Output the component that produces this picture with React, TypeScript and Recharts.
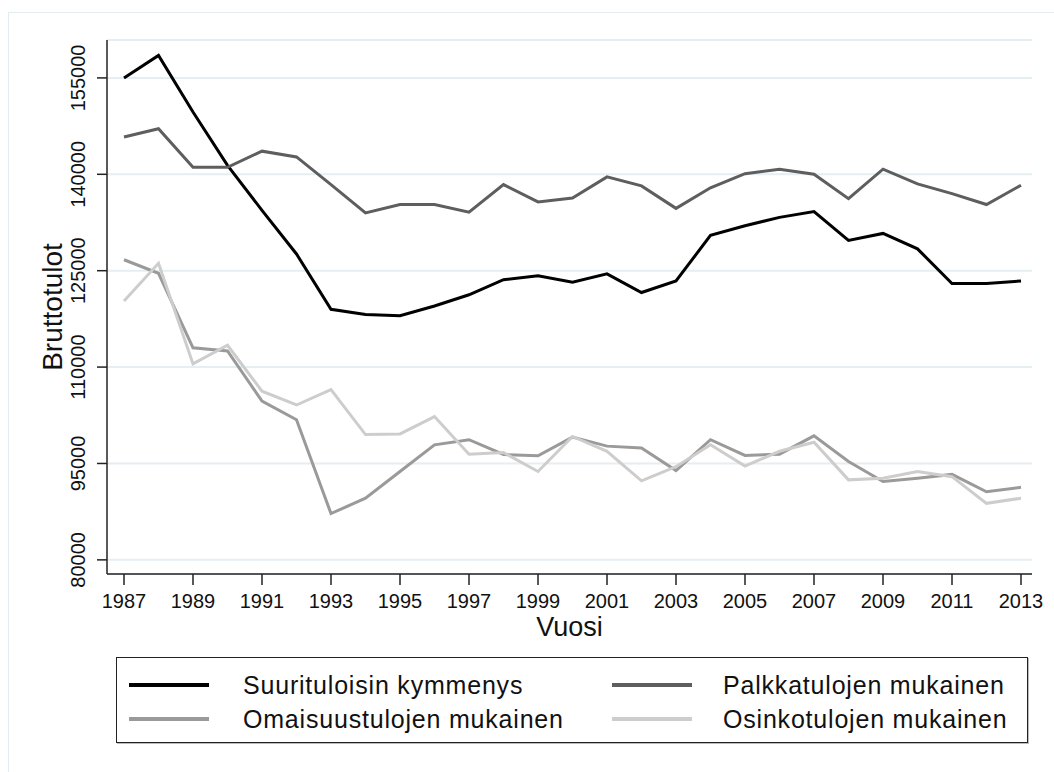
import React from 'react';
import { LineChart, Line, XAxis, YAxis, CartesianGrid, Legend } from 'recharts';

const years = [1987, 1988, 1989, 1990, 1991, 1992, 1993, 1994, 1995, 1996, 1997, 1998, 1999, 2000, 2001, 2002, 2003, 2004, 2005, 2006, 2007, 2008, 2009, 2010, 2011, 2012, 2013];
const suurituloisin = [155000, 158500, 149700, 141400, 134400, 127600, 119000, 118200, 118000, 119500, 121250, 123600, 124200, 123200, 124500, 121600, 123400, 130500, 132000, 133300, 134200, 129700, 130800, 128400, 123000, 123000, 123400];
const palkkatulot = [145800, 147100, 141100, 141100, 143600, 142700, 138400, 134000, 135300, 135300, 134100, 138400, 135700, 136300, 139600, 138200, 134700, 137900, 140100, 140800, 140000, 136200, 140800, 138500, 137000, 135300, 138300];
const omaisuustulot = [126700, 124600, 113000, 112500, 104700, 101800, 87200, 89600, 93750, 97900, 98700, 96400, 96200, 99100, 97700, 97400, 93900, 98700, 96250, 96450, 99300, 95300, 92200, 92700, 93300, 90600, 91300];
const osinkotulot = [120300, 126150, 110500, 113400, 106250, 104100, 106500, 99500, 99600, 102300, 96450, 96700, 93750, 99200, 96900, 92300, 94500, 97900, 94600, 96900, 98300, 92450, 92700, 93750, 92950, 88800, 89600];

const xTicks = [1987, 1989, 1991, 1993, 1995, 1997, 1999, 2001, 2003, 2005, 2007, 2009, 2011, 2013];
const yTicks = [80000, 95000, 110000, 125000, 140000, 155000];

const seriesKeys = ['suurituloisin', 'palkkatulot', 'omaisuustulot', 'osinkotulot'];
const seriesNames = ['Suurituloisin kymmenys', 'Palkkatulojen mukainen', 'Omaisuustulojen mukainen', 'Osinkotulojen mukainen'];
const seriesColors = ['#000000', '#5e5e5e', '#9a9a9a', '#cdcdcd'];

const data = years.map((year, i) => ({
  year,
  suurituloisin: suurituloisin[i],
  palkkatulot: palkkatulot[i],
  omaisuustulot: omaisuustulot[i],
  osinkotulot: osinkotulot[i],
}));

const FONT = '"Liberation Sans", Arial, sans-serif';

const YTick = (props: any) => {
  const { x, y, payload } = props;
  const bx = x - 12;
  return (
    <text x={bx} y={y} transform={`rotate(-90, ${bx}, ${y})`} textAnchor="middle" fontFamily={FONT} fontSize={20} fill="#111">
      {payload.value}
    </text>
  );
};

const XTick = (props: any) => {
  const { x, y, payload } = props;
  return (
    <text x={x} y={y} dy={23} textAnchor="middle" fontFamily={FONT} fontSize={20} fill="#111">
      {payload.value}
    </text>
  );
};

const LegendBox = () => {
  const items = seriesNames.map((name, i) => ({ name, color: seriesColors[i] }));
  return (
    <div style={{ height: 100, position: 'relative', fontFamily: FONT }}>
      <div
        style={{
          position: 'absolute',
          left: 116,
          top: 13,
          width: 910,
          height: 84,
          border: '1.5px solid #222',
          boxShadow: '1px 1px 0 #bbb',
          background: '#fff',
        }}
      >
        {items.map((it, i) => {
          const col = i % 2;
          const row = Math.floor(i / 2);
          const left = col === 0 ? 12 : 495;
          const top = row === 0 ? 27 : 61;
          return (
            <div key={it.name} style={{ position: 'absolute', left, top: top - 16, height: 32, display: 'flex', alignItems: 'center' }}>
              <div style={{ width: 80, height: 4, background: it.color }} />
              <div style={{ marginLeft: col === 0 ? 34 : 31, fontSize: 25, color: '#111', whiteSpace: 'nowrap', letterSpacing: 0.8 }}>{it.name}</div>
            </div>
          );
        })}
      </div>
    </div>
  );
};

export default function App() {
  return (
    <div style={{ position: 'absolute', left: 0, top: 0, width: 1054, height: 772, background: '#fff' }}>
      <div style={{ position: 'absolute', left: 8, top: 12, right: -2, bottom: -2, border: '1px solid #e3ecef' }} />
      <LineChart
        width={1054}
        height={772}
        data={data}
        margin={{ top: 40, right: 22, bottom: 28, left: 0 }}
        style={{ position: 'absolute', left: 0, top: 0 }}
      >
        <CartesianGrid horizontal vertical={false} stroke="#e5eef1" strokeWidth={2} />
        <XAxis
          dataKey="year"
          type="number"
          domain={[1987, 2013]}
          ticks={xTicks}
          padding={{ left: 17, right: 11 }}
          height={70}
          tickSize={11}
          tickMargin={0}
          stroke="#222"
          strokeWidth={1.5}
          tick={<XTick />}
          label={(p: any) => {
            const vb = p.viewBox;
            return (
              <text x={vb.x + vb.width / 2} y={636} textAnchor="middle" fontFamily={FONT} fontSize={27} fill="#111">
                Vuosi
              </text>
            );
          }}
        />
        <YAxis
          type="number"
          domain={[77800, 160900]}
          allowDataOverflow
          ticks={yTicks}
          width={107}
          tickSize={10}
          tickMargin={0}
          stroke="#222"
          strokeWidth={1.5}
          tick={<YTick />}
          label={(p: any) => {
            const vb = p.viewBox;
            const cy = vb.y + vb.height / 2;
            return (
              <text x={62} y={cy} transform={`rotate(-90, 62, ${cy})`} textAnchor="middle" fontFamily={FONT} fontSize={28} fill="#111">
                Bruttotulot
              </text>
            );
          }}
        />
        <Legend verticalAlign="bottom" content={<LegendBox />} />
        {seriesKeys.map((k, i) => (
          <Line
            key={k}
            dataKey={k}
            name={seriesNames[i]}
            stroke={seriesColors[i]}
            strokeWidth={3}
            dot={false}
            activeDot={false}
            isAnimationActive={false}
            type="linear"
          />
        ))}
      </LineChart>
    </div>
  );
}
